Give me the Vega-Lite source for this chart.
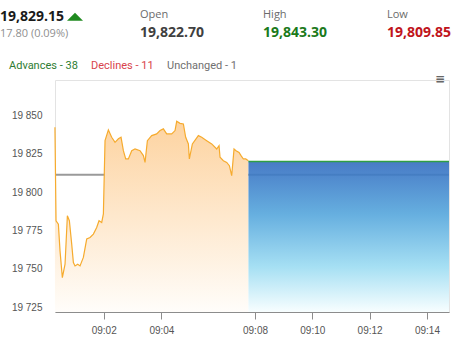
{
  "$schema": "https://vega.github.io/schema/vega-lite/v6.json",
  "padding": {"left": 0, "top": 9, "right": 0, "bottom": 0},
  "background": "white",
  "config": {"view": {"stroke": null}},
  "datasets": {
    "none": [],
    "marker": [{"direction": "up"}],
    "reference": [{"label": "Previous close", "price": 19811.35}],
    "extension": [{"minute": 7.72, "price": 19820}, {"minute": 14.77, "price": 19820}],
    "prices": [
      {"minute": 0.31, "price": 19842.2}, {"minute": 0.348, "price": 19781.4}, {"minute": 0.429, "price": 19779.2},
      {"minute": 0.486, "price": 19761.8}, {"minute": 0.567, "price": 19744.4}, {"minute": 0.66, "price": 19753.1},
      {"minute": 0.741, "price": 19784.6}, {"minute": 0.81, "price": 19781.4}, {"minute": 0.891, "price": 19766.2},
      {"minute": 0.949, "price": 19754.2}, {"minute": 1.006, "price": 19752.0}, {"minute": 1.099, "price": 19753.1},
      {"minute": 1.18, "price": 19752.0}, {"minute": 1.295, "price": 19757.5}, {"minute": 1.411, "price": 19769.5},
      {"minute": 1.526, "price": 19770.5}, {"minute": 1.642, "price": 19772.7}, {"minute": 1.757, "price": 19777.0},
      {"minute": 1.838, "price": 19781.4}, {"minute": 1.931, "price": 19780.3}, {"minute": 1.989, "price": 19785.8},
      {"minute": 2.046, "price": 19833.5}, {"minute": 2.162, "price": 19840.5}, {"minute": 2.277, "price": 19835.7},
      {"minute": 2.393, "price": 19832.4}, {"minute": 2.509, "price": 19834.7}, {"minute": 2.601, "price": 19835.7},
      {"minute": 2.682, "price": 19827.0}, {"minute": 2.763, "price": 19821.6}, {"minute": 2.855, "price": 19821.6},
      {"minute": 2.971, "price": 19827.0}, {"minute": 3.086, "price": 19828.1}, {"minute": 3.259, "price": 19827.0},
      {"minute": 3.375, "price": 19823.8}, {"minute": 3.433, "price": 19819.4}, {"minute": 3.514, "price": 19833.5},
      {"minute": 3.664, "price": 19836.8}, {"minute": 3.837, "price": 19837.9}, {"minute": 3.953, "price": 19840.1},
      {"minute": 4.084, "price": 19841.2}, {"minute": 4.226, "price": 19837.9}, {"minute": 4.44, "price": 19837.9},
      {"minute": 4.583, "price": 19840.1}, {"minute": 4.654, "price": 19846.1}, {"minute": 4.796, "price": 19844.8},
      {"minute": 4.939, "price": 19844.4}, {"minute": 5.038, "price": 19835.7}, {"minute": 5.153, "price": 19831.4},
      {"minute": 5.195, "price": 19821.6}, {"minute": 5.324, "price": 19831.4}, {"minute": 5.58, "price": 19836.8},
      {"minute": 5.722, "price": 19835.7}, {"minute": 5.936, "price": 19833.5}, {"minute": 6.15, "price": 19831.4},
      {"minute": 6.363, "price": 19828.1}, {"minute": 6.463, "price": 19830.3}, {"minute": 6.506, "price": 19822.7},
      {"minute": 6.648, "price": 19820.5}, {"minute": 6.791, "price": 19819.4}, {"minute": 6.905, "price": 19817.2},
      {"minute": 7.004, "price": 19810.7}, {"minute": 7.104, "price": 19828.1}, {"minute": 7.19, "price": 19827.0},
      {"minute": 7.318, "price": 19825.9}, {"minute": 7.403, "price": 19823.8}, {"minute": 7.503, "price": 19821.6},
      {"minute": 7.603, "price": 19821.6}, {"minute": 7.717, "price": 19820.5}
    ]
  },
  "bounds": "full",
  "spacing": 0,
  "vconcat": [
    {
      "bounds": "flush",
      "spacing": 0,
      "hconcat": [
        {
          "width": 67, "height": 31,
          "data": {"name": "none"},
          "mark": {"type": "text", "text": ""},
          "title": {"text": "19,829.15", "subtitle": "17.80 (0.09%)", "anchor": "start", "frame": "group", "orient": "top",
            "offset": -30, "font": "Open Sans", "fontSize": 14, "fontWeight": "bold", "color": "#1a1a1a",
            "subtitleFont": "Open Sans", "subtitleFontSize": 11, "subtitleColor": "#8f8f8f", "subtitlePadding": 4.3}
        },
        {
          "width": 16, "height": 15.4,
          "data": {"name": "marker"},
          "mark": {"type": "point", "shape": "M-1,0.5L1,0.5L0,-0.5Z", "size": 256, "filled": true, "color": "#1f8a1f", "opacity": 1, "strokeWidth": 0}
        },
        {
          "width": 180, "height": 31,
          "data": {"name": "none"},
          "mark": {"type": "text", "text": ""},
          "title": {"text": "Open", "subtitle": "19,822.70", "anchor": "start", "frame": "group", "orient": "top",
            "offset": -30.6, "dx": 57, "font": "Open Sans", "fontSize": 11, "fontWeight": "normal", "color": "#6b6b6b",
            "subtitleFont": "Open Sans", "subtitleFontSize": 14, "subtitleFontWeight": "bold", "subtitleColor": "#404040", "subtitlePadding": 5.3}
        },
        {
          "width": 124, "height": 31,
          "data": {"name": "none"},
          "mark": {"type": "text", "text": ""},
          "title": {"text": "High", "subtitle": "19,843.30", "anchor": "start", "frame": "group", "orient": "top",
            "offset": -30.6, "font": "Open Sans", "fontSize": 11, "fontWeight": "normal", "color": "#6b6b6b",
            "subtitleFont": "Open Sans", "subtitleFontSize": 14, "subtitleFontWeight": "bold", "subtitleColor": "#1b7a1b", "subtitlePadding": 5.3}
        },
        {
          "width": 60, "height": 31,
          "data": {"name": "none"},
          "mark": {"type": "text", "text": ""},
          "title": {"text": "Low", "subtitle": "19,809.85", "anchor": "start", "frame": "group", "orient": "top",
            "offset": -30.6, "font": "Open Sans", "fontSize": 11, "fontWeight": "normal", "color": "#6b6b6b",
            "subtitleFont": "Open Sans", "subtitleFontSize": 14, "subtitleFontWeight": "bold", "subtitleColor": "#c0141b", "subtitlePadding": 5.3}
        }
      ]
    },
    {
      "bounds": "flush",
      "spacing": 0,
      "hconcat": [
        {
          "width": 90.7, "height": 31.3,
          "data": {"name": "none"},
          "mark": {"type": "text", "text": ""},
          "title": {"text": "Advances - 38", "anchor": "start", "frame": "group", "orient": "top", "offset": -31.3, "dx": 9,
            "font": "Roboto", "fontSize": 11, "fontWeight": "normal", "color": "#2e7d32"}
        },
        {
          "width": 76, "height": 31.3,
          "data": {"name": "none"},
          "mark": {"type": "text", "text": ""},
          "title": {"text": "Declines - 11", "anchor": "start", "frame": "group", "orient": "top", "offset": -31.3,
            "font": "Roboto", "fontSize": 11, "fontWeight": "normal", "color": "#d8434b"}
        },
        {
          "width": 280.3, "height": 31.3,
          "data": {"name": "none"},
          "mark": {"type": "text", "text": ""},
          "title": {"text": "Unchanged - 1", "anchor": "start", "frame": "group", "orient": "top", "offset": -31.3,
            "font": "Roboto", "fontSize": 11, "fontWeight": "normal", "color": "#707070"}
        }
      ]
    },
    {
      "bounds": "full",
      "spacing": 0,
      "hconcat": [
        {
          "width": 9.72, "height": 1,
          "data": {"name": "none"},
          "mark": {"type": "text", "text": ""}
        },
        {
          "width": 394,
          "height": 232,
          "view": {"stroke": "#e3e3e3"},
          "title": {"text": "≡", "anchor": "end", "frame": "group", "orient": "top", "offset": -6.3, "dx": -4,
            "font": "DejaVu Sans", "fontSize": 12, "fontWeight": "bold", "color": "#666666"},
          "layer": [
            {
              "data": {"name": "reference"},
              "mark": {"type": "rule", "color": "#9a9a9a", "strokeWidth": 2},
              "encoding": {
                "y": {"field": "price", "type": "quantitative",
                  "scale": {"domain": [19722, 19873], "nice": false, "zero": false},
                  "axis": {"values": [19725, 19750, 19775, 19800, 19825, 19850],
                    "labelExpr": "replace(format(datum.value, ','), ',', ' ')",
                    "title": null, "grid": false, "domain": false, "ticks": false, "labelPadding": 13,
                    "labelColor": "#555555", "labelFont": "Liberation Sans", "labelFontSize": 10, "labelFlush": false}}
              }
            },
            {
              "data": {"name": "prices"},
              "mark": {"type": "area", "opacity": 1, "interpolate": "linear",
                "line": {"color": "#f6ab2e", "strokeWidth": 1.2},
                "color": {"gradient": "linear", "x1": 0, "y1": 0, "x2": 0, "y2": 1,
                  "stops": [{"offset": 0, "color": "#fdd3a0"}, {"offset": 1, "color": "#fffdfa"}]}},
              "encoding": {
                "x": {"field": "minute", "type": "quantitative",
                  "scale": {"domain": [0.312, 2, 4, 8, 14.77], "range": [0, 48.7, 106.4, 200, 394], "nice": false, "zero": false},
                  "axis": {"values": [2, 4, 8, 10, 12, 14],
                    "labelExpr": "'09:' + (datum.value < 10 ? '0' : '') + datum.value",
                    "title": null, "grid": false, "domainColor": "#8c8c8c", "tickColor": "#8c8c8c", "tickSize": 7,
                    "labelColor": "#555555", "labelFont": "Liberation Sans", "labelFontSize": 10, "labelPadding": 6,
                    "labelFlush": false, "labelOverlap": false}},
                "y": {"field": "price", "type": "quantitative", "stack": null,
                  "scale": {"domain": [19722, 19873], "nice": false, "zero": false}}
              }
            },
            {
              "data": {"name": "extension"},
              "mark": {"type": "area", "opacity": 0.9,
                "line": {"color": "#2f9e44", "strokeWidth": 1.5},
                "color": {"gradient": "linear", "x1": 0, "y1": 0, "x2": 0, "y2": 1,
                  "stops": [{"offset": 0, "color": "#336cc0"}, {"offset": 0.35, "color": "#55a6dc"}, {"offset": 0.7, "color": "#9cdcf2"}, {"offset": 1, "color": "#f7feff"}]}},
              "encoding": {
                "x": {"field": "minute", "type": "quantitative",
                  "scale": {"domain": [0.312, 2, 4, 8, 14.77], "range": [0, 48.7, 106.4, 200, 394], "nice": false, "zero": false}},
                "y": {"field": "price", "type": "quantitative", "stack": null,
                  "scale": {"domain": [19722, 19873], "nice": false, "zero": false}}
              }
            }
          ]
        }
      ]
    }
  ]
}
